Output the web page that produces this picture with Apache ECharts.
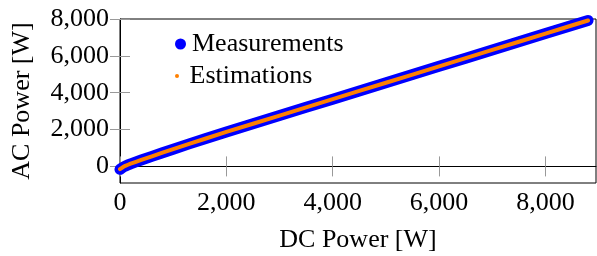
<!DOCTYPE html>
<html>
<head>
<meta charset="utf-8">
<script src="https://cdn.jsdelivr.net/npm/echarts@6/dist/echarts.min.js"></script>
<style>
  html, body { margin: 0; padding: 0; background: #fff; }
  #show { width: 597px; height: 256px; }
</style>
</head>
<body>
<div id="show"></div>
<script>
    // DC power readings (x) and AC power for both series
    var dcPower = [0, 50, 100, 150, 200, 300, 400, 600, 800, 1000, 1300, 1600, 2000, 2500, 3000,
        3500, 4000, 4500, 5000, 5500, 6000, 6500, 7000, 7500, 8000, 8400, 8800];
    var acMeasured = [-160, -60, 20, 80, 140, 245, 345, 545, 745, 935, 1225, 1500, 1870, 2315, 2760,
        3205, 3650, 4095, 4540, 4985, 5430, 5875, 6320, 6765, 7210, 7565, 7920];
    var acEstimated = [-150, -50, 30, 90, 150, 250, 350, 550, 745, 940, 1225, 1500, 1870, 2315, 2760,
        3205, 3650, 4095, 4540, 4985, 5430, 5875, 6320, 6765, 7210, 7565, 7920];
    var xTicks = [0, 2000, 4000, 6000, 8000];
    var yTicks = [0, 2000, 4000, 6000, 8000];

    var myChart = echarts.init(document.getElementById('show'));
    var font = 'Liberation Serif';

    function pairs(xs, ys) {
        var out = [];
        for (var i = 0; i < xs.length; i++) out.push([xs[i], ys[i]]);
        return out;
    }
    function fmt(v) {
        return Number(v).toLocaleString('en-US');
    }

    var tickStyle = {show: true, inside: true, length: 10, lineStyle: {color: '#999', width: 1}};

    var option = {
        animation: false,
        textStyle: {fontFamily: font, color: '#000'},
        grid: {left: 120, right: 1, top: 19, bottom: 73, outerBoundsMode: 'none',
            show: true, borderColor: '#000', borderWidth: 1},
        legend: [
            {
                data: [{name: 'Measurements', icon: 'circle'}],
                left: 175, top: 31, padding: 0,
                itemWidth: 11, itemHeight: 11,
                textStyle: {fontFamily: font, fontSize: 26, color: '#000', padding: [0, 0, 0, 1]}
            },
            {
                data: [{name: 'Estimations', icon: 'circle'}],
                left: 175, top: 63, padding: 0,
                itemWidth: 11, itemHeight: 4,
                textStyle: {fontFamily: font, fontSize: 26, color: '#000', padding: [0, 0, 0, 2]}
            }
        ],
        xAxis: [
            {
                type: 'value', min: 0, max: 8950,
                name: 'DC Power [W]', nameLocation: 'middle', nameGap: 44,
                nameTextStyle: {fontFamily: font, fontSize: 26, color: '#000'},
                axisLine: {show: true, lineStyle: {color: '#000', width: 1}},
                axisTick: Object.assign({customValues: xTicks}, tickStyle),
                axisLabel: {customValues: xTicks, formatter: fmt, margin: 7,
                    fontFamily: font, fontSize: 26, color: '#000'},
                splitLine: {show: false}
            },
            {
                type: 'value', min: 0, max: 8950, position: 'top',
                axisLine: {show: false},
                axisTick: Object.assign({customValues: xTicks}, tickStyle),
                axisLabel: {show: false},
                splitLine: {show: false}
            }
        ],
        yAxis: [
            {
                type: 'value', min: -900, max: 8000,
                name: 'AC Power [W]', nameLocation: 'middle', nameGap: 85,
                nameTextStyle: {fontFamily: font, fontSize: 26, color: '#000'},
                axisLine: {show: true, lineStyle: {color: '#000', width: 1}},
                axisTick: Object.assign({customValues: yTicks}, tickStyle),
                axisLabel: {customValues: yTicks, formatter: fmt, margin: 11,
                    fontFamily: font, fontSize: 26, color: '#000'},
                splitLine: {show: false}
            },
            {
                type: 'value', min: -900, max: 8000, position: 'right',
                axisLine: {show: false},
                axisTick: Object.assign({customValues: yTicks}, tickStyle),
                axisLabel: {show: false},
                splitLine: {show: false}
            }
        ],
        series: [
            {
                name: 'Measurements',
                type: 'line',
                data: pairs(dcPower, acMeasured),
                showSymbol: false,
                clip: false,
                itemStyle: {color: '#0000ff'},
                lineStyle: {color: '#0000ff', width: 11, cap: 'round', join: 'round'}
            },
            {
                name: 'Estimations',
                type: 'line',
                data: pairs(dcPower, acEstimated),
                showSymbol: false,
                clip: false,
                itemStyle: {color: '#ff8000'},
                lineStyle: {color: '#ff8000', width: 4, cap: 'round', join: 'round'}
            }
        ]
    };
    myChart.setOption(option);
</script>
</body>
</html>
